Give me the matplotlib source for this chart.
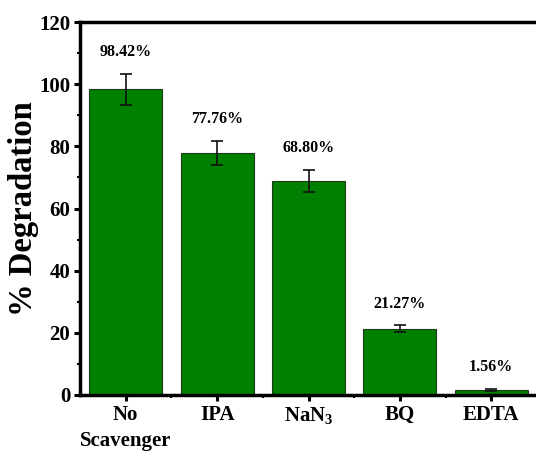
import matplotlib
matplotlib.use('Agg')
import matplotlib.pyplot as plt
from matplotlib.ticker import MultipleLocator, FixedLocator

categories = ['No\nScavenger', 'IPA', 'NaN$_3$', 'BQ', 'EDTA']
degradation = [98.42, 77.76, 68.80, 21.27, 1.56]
errors = [5.0, 3.9, 3.6, 1.1, 0.3]
labels = ['98.42%', '77.76%', '68.80%', '21.27%', '1.56%']

plt.rcParams['font.family'] = 'Liberation Serif'
plt.rcParams['font.weight'] = 'bold'
plt.rcParams['mathtext.fontset'] = 'custom'
plt.rcParams['mathtext.rm'] = 'Liberation Serif:bold'
plt.rcParams['mathtext.it'] = 'Liberation Serif:bold'

fig = plt.figure(figsize=(5.36, 4.51), dpi=100)
ax = fig.add_axes([80/536, 56/451, 457/536, 373/451])

x = range(len(categories))
ax.bar(x, degradation, width=0.8, color='#008000', edgecolor='#1a3a1a', linewidth=0.8,
       yerr=errors, capsize=4, error_kw=dict(ecolor='#111111', elinewidth=1.2, capthick=1.2))

for i, (v, e, t) in enumerate(zip(degradation, errors, labels)):
    ax.annotate(t, (i, v + e), xytext=(0, 10), textcoords='offset points',
                ha='center', va='bottom', fontsize=11.5, fontweight='bold')

ax.set_xlim(-0.5, 4.5)
ax.set_ylim(0, 120)
ax.set_xticks(list(x))
ax.set_xticklabels(categories, fontsize=15, fontweight='bold', linespacing=1.45)
ax.xaxis.set_minor_locator(FixedLocator([0.5, 1.5, 2.5, 3.5]))
ax.yaxis.set_major_locator(MultipleLocator(20))
ax.yaxis.set_minor_locator(MultipleLocator(10))
ax.tick_params(axis='y', labelsize=15, pad=3)
ax.tick_params(axis='x', pad=3)
ax.tick_params(which='major', direction='out', length=4, width=2.2)
ax.tick_params(which='minor', direction='out', length=2, width=1.5)
ax.set_ylabel('% Degradation', fontsize=23.5, fontweight='bold', labelpad=0)

for s in ['left', 'bottom', 'top']:
    ax.spines[s].set_linewidth(2.5)
ax.spines['right'].set_linewidth(1.0)
ax.spines['right'].set_color('#555555')

fig.savefig('out.png', dpi=100)
